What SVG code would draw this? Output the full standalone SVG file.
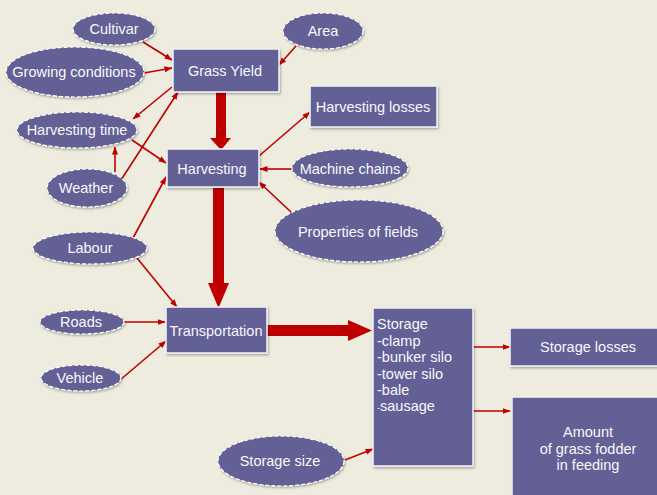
<svg xmlns="http://www.w3.org/2000/svg" width="657" height="495" viewBox="0 0 657 495">
<defs>
<marker id="ah" markerUnits="userSpaceOnUse" markerWidth="8" markerHeight="8" viewBox="0 0 8 8" refX="7.5" refY="4" orient="auto">
<path d="M0,1 L8,4 L0,7 Z" fill="#C00000"/>
</marker>
<filter id="sh" x="-10%" y="-10%" width="130%" height="140%">
<feDropShadow dx="1" dy="1.5" stdDeviation="1" flood-color="#000" flood-opacity="0.3"/>
</filter>
</defs>
<style>
.box{fill:#626195;stroke:#F4F3F8;stroke-width:1.5;filter:url(#sh)}
.ell{fill:#626195;stroke:#FFFFFF;stroke-width:1.2;stroke-dasharray:4 2;filter:url(#sh)}
text{font-family:"Liberation Sans",Arial,sans-serif;font-size:14.5px;fill:#F8F8FC}
.c{text-anchor:middle;dominant-baseline:central}
.thin{stroke:#C00000;stroke-width:1.6;fill:none;marker-end:url(#ah)}
.thick{fill:#C00000}
</style>
<rect width="657" height="495" fill="#EEEBDF"/>

<g id="connectors">
<line class="thin" x1="143" y1="42" x2="172" y2="60"/>
<line class="thin" x1="144" y1="73" x2="172" y2="68"/>
<line class="thin" x1="296" y1="46" x2="279" y2="65"/>
<line class="thin" x1="172" y1="87" x2="133" y2="119"/>
<line class="thin" x1="121" y1="180" x2="178" y2="92"/>
<line class="thin" x1="132" y1="140" x2="166" y2="163"/>
<line class="thin" x1="115" y1="172" x2="115" y2="147"/>
<line class="thin" x1="259" y1="156" x2="310" y2="112"/>
<line class="thin" x1="292" y1="169" x2="260" y2="169"/>
<line class="thin" x1="292" y1="213" x2="259" y2="182"/>
<line class="thin" x1="133" y1="238" x2="166" y2="177"/>
<line class="thin" x1="137" y1="258" x2="177" y2="307"/>
<line class="thin" x1="122" y1="322" x2="165" y2="322"/>
<line class="thin" x1="120" y1="380" x2="166" y2="341"/>
<line class="thin" x1="470" y1="347" x2="510" y2="347"/>
<line class="thin" x1="470" y1="411" x2="510" y2="411"/>
<line class="thin" x1="345" y1="460" x2="373" y2="449"/>
<path class="thick" d="M216,92 H226 V138 H231 L221,150 L210,138 H216 Z"/>
<path class="thick" d="M213,188 H224 V283 H229 L218.5,308 L208,283 H213 Z"/>
<path class="thick" d="M267,325 H348 V320 L372,330.5 L348,341 V336 H267 Z"/>
</g>

<g id="cultivar"><ellipse class="ell" cx="114" cy="29" rx="41" ry="16"/><text class="c" x="114" y="29">Cultivar</text></g>
<g id="growing-conditions"><ellipse class="ell" cx="75" cy="72" rx="69" ry="25"/><text class="c" x="74" y="72">Growing conditions</text></g>
<g id="area"><ellipse class="ell" cx="323" cy="31" rx="40" ry="18"/><text class="c" x="323" y="31">Area</text></g>
<g id="grass-yield"><rect class="box" x="173" y="49" width="106" height="43"/><text class="c" x="225" y="71">Grass Yield</text></g>
<g id="harvesting-time"><ellipse class="ell" cx="77" cy="130" rx="60" ry="18"/><text class="c" x="77" y="130">Harvesting time</text></g>
<g id="weather"><ellipse class="ell" cx="87" cy="188" rx="40" ry="19"/><text class="c" x="86" y="188">Weather</text></g>
<g id="harvesting"><rect class="box" x="167" y="149" width="92" height="38"/><text class="c" x="212" y="169">Harvesting</text></g>
<g id="harvesting-losses"><rect class="box" x="310" y="86" width="127" height="41"/><text class="c" x="373" y="107">Harvesting losses</text></g>
<g id="machine-chains"><ellipse class="ell" cx="350" cy="168" rx="58" ry="19"/><text class="c" x="350" y="169">Machine chains</text></g>
<g id="properties-of-fields"><ellipse class="ell" cx="359" cy="231" rx="84" ry="31"/><text class="c" x="358" y="232">Properties of fields</text></g>
<g id="labour"><ellipse class="ell" cx="90" cy="248" rx="57" ry="16"/><text class="c" x="90" y="248">Labour</text></g>
<g id="roads"><ellipse class="ell" cx="82" cy="322" rx="42" ry="12"/><text class="c" x="81" y="322">Roads</text></g>
<g id="vehicle"><ellipse class="ell" cx="81" cy="378" rx="40" ry="13"/><text class="c" x="80" y="378">Vehicle</text></g>
<g id="transportation"><rect class="box" x="166" y="307" width="101" height="46"/><text class="c" x="216" y="331">Transportation</text></g>
<g id="storage-size"><ellipse class="ell" cx="281" cy="461" rx="63" ry="25"/><text class="c" x="280" y="461">Storage size</text></g>
<g id="storage"><rect class="box" x="373" y="308" width="100" height="158"/>
<text x="377" y="329">Storage</text>
<text x="377" y="346">-clamp</text>
<text x="377" y="362">-bunker silo</text>
<text x="377" y="379">-tower silo</text>
<text x="377" y="395">-bale</text>
<text x="377" y="411"><tspan font-size="9">-</tspan>sausage</text>
</g>
<g id="storage-losses"><rect class="box" x="510" y="328" width="150" height="38"/><text class="c" x="588" y="347">Storage losses</text></g>
<g id="amount"><rect class="box" x="512" y="397" width="148" height="101"/>
<text class="c" x="588" y="432">Amount</text>
<text class="c" x="588" y="449">of grass fodder</text>
<text class="c" x="588" y="465">in feeding</text>
</g>
</svg>
